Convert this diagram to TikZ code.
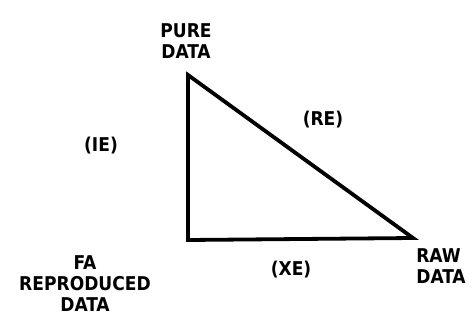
\documentclass[tikz,border=0pt]{standalone}
\usepackage{fontspec}
\setmainfont{DejaVu Sans Condensed}
\usetikzlibrary{positioning}

\begin{document}
\begin{tikzpicture}[
  x=1pt, y=-1pt,
  lbl/.style={align=center, font=\fontsize{19}{21}\selectfont\bfseries, inner sep=0pt},
  side/.style={line width=3.8pt, line join=miter}
]
\useasboundingbox (0,0) rectangle (475,322);

\coordinate (pure) at (188,75);
\coordinate (fa) at (188,240);
\coordinate (raw) at (413,238);

\draw[side] (pure) -- (raw) -- (fa) -- cycle;

\node[lbl] (purelbl) at (186,41) {PURE\\DATA};
\node[lbl] (falbl) at (85,284) {FA\\REPRODUCED\\DATA};
\node[lbl, align=left] (rawlbl) at (441,266) {RAW\\DATA};

\node[lbl] (re) at (323,120) {(RE)};
\node[lbl] (ie) at (101,146) {(IE)};
\node[lbl] (xe) at (291,270) {(XE)};
\end{tikzpicture}
\end{document}
